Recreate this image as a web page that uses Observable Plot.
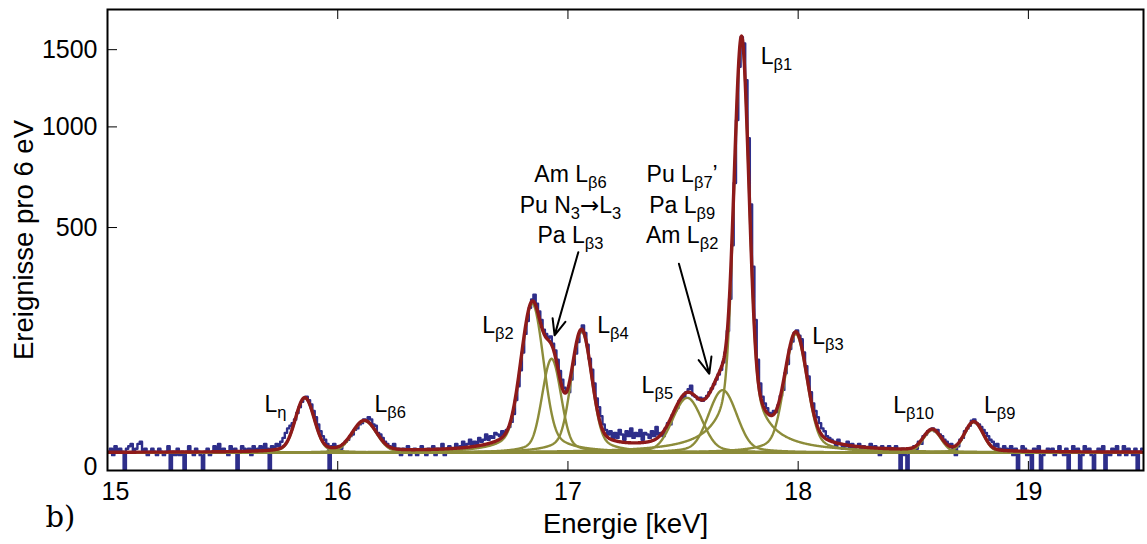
<!DOCTYPE html>
<html>
<head>
<meta charset="utf-8">
<script src="https://cdn.jsdelivr.net/npm/d3@7"></script>
<script src="https://cdn.jsdelivr.net/npm/@observablehq/plot@0.6"></script>
<style>
  html, body { margin: 0; padding: 0; background: #fff; }
  #chart { width: 1147px; height: 544px; }
</style>
</head>
<body>
<div id="chart"></div>
<script>
// ---------- data ----------
// measured spectrum, counts per 6 eV, sampled in 10 eV steps starting at 15.00 keV
const binStart = 15.005;   // keV, centre of first bin
const binWidth = 0.01;     // keV
const counts = [
  3,4,2,5,3,4,3,0,4,5,     6,3,4,6,7,3,4,2,3,4,     3,2,4,3,2,3,5,0,3,2,
  4,2,3,0,3,5,3,2,4,3,     2,0,3,4,2,3,5,3,6,3,     4,3,2,5,3,4,0,3,5,4,
  3,4,2,5,3,4,5,3,6,4,     0,5,4,6,5,7,9,12,15,17,  19,22,28,34,40,44,46,42,37,30,
  24,18,13,10,8,6,0,5,6,4,
  5,4,6,7,8,10,11,14,15,18,   19,22,21,24,22,18,17,12,11,9,   7,6,5,4,6,3,4,2,4,3,
  5,2,3,4,2,3,5,3,2,4,        3,5,2,4,3,6,2,4,5,3,            4,6,3,5,7,4,6,8,5,7,
  6,9,7,8,11,8,10,9,12,11,    10,13,11,14,16,20,27,42,60,85,  118,158,189,224,248,262,236,214,192,168,
  158,149,152,136,122,104,84,70,58,55,
  52,70,95,116,140,162,178,160,134,106,   86,64,44,34,25,18,14,11,13,9,   12,9,14,11,8,13,10,15,9,12,
  10,14,8,12,11,9,13,10,16,11,            12,10,15,19,18,26,30,33,41,44,  46,52,56,61,48,46,43,45,41,44,
  47,52,57,63,70,78,86,99,118,165,        250,430,700,1040,1380,1590,1545,1290,935,600,
  352,192,104,64,46,38,33,28,27,30,       29,36,47,55,80,96,125,141,160,166,
  154,146,118,92,75,52,38,30,24,19,   15,13,10,9,8,7,5,8,6,4,   5,7,4,6,3,5,6,4,5,3,
  4,6,3,5,4,2,5,4,3,5,               4,3,5,3,0,4,2,0,3,4,      5,4,7,6,10,11,13,14,15,13,
  14,11,10,8,7,5,6,4,2,5,            8,9,13,15,17,21,22,19,18,16,  14,12,10,8,7,5,6,4,3,5,
  4,3,5,2,4,0,3,5,4,2,
  3,0,4,3,5,0,2,3,4,3,   4,2,3,5,3,2,4,0,3,5,   3,4,0,2,5,3,4,2,0,3,
  4,3,5,0,3,2,4,3,5,2,   3,5,2,4,3,2,4,0,3,4
];

// fitted line components (pseudo-Voigt): centre [keV], height [counts], FWHM [keV]
const peakNames   = ["Lη","Lβ6","Lβ2","Am Lβ6 / Pu N3→L3 / Pa Lβ3","Lβ4","Lβ5","Pu Lβ7' / Pa Lβ9 / Am Lβ2","Lβ1","Lβ3","Lβ10","Lβ9"];
const peakCenters = [15.857, 16.116, 16.845, 16.929, 17.059, 17.518, 17.672, 17.754, 17.990, 18.582, 18.763];
const peakHeights = [42, 18, 233, 103, 162, 42, 52, 1580, 155, 11, 17];
const peakWidths  = [0.078, 0.105, 0.088, 0.075, 0.08, 0.12, 0.115, 0.058, 0.088, 0.08, 0.08];
const lorentzFraction = 0.2;
const background = 2.7;

// tick values
const xTicks = [15, 16, 17, 18, 19];
const yTicks = [0, 500, 1000, 1500];

// annotations
const labelTexts  = ["L_{η}", "L_{β6}", "L_{β2}", "L_{β4}", "L_{β5}", "L_{β1}", "L_{β3}", "L_{β10}", "L_{β9}"];
const labelEnergy = [15.682, 16.160, 16.628, 17.127, 17.320, 17.837, 18.061, 18.413, 18.807];
const labelCounts = [36.9, 36.9, 177.7, 176.9, 61.1, 1452, 152.7, 35.1, 35.1];

const noteTexts  = ["Am L_{β6}", "Pu N_{3}→L_{3}", "Pa L_{β3}", "Pu L_{β7}’", "Pa L_{β9}", "Am L_{β2}"];
const noteEnergy = [17.011, 17.011, 17.011, 17.496, 17.496, 17.496];
const noteCounts = [742, 592, 468, 742, 592, 468];

const arrowFromE = [17.045, 17.482];
const arrowFromC = [403.6, 361.9];
const arrowToE   = [16.942, 17.614];
const arrowToC   = [154.7, 79.2];

// ---------- build tables ----------
const hist = counts.map((c, i) => ({E: binStart + i * binWidth, c}));

function profile(E, k) {
  const r = (E - peakCenters[k]) / peakWidths[k];
  return peakHeights[k] * ((1 - lorentzFraction) * Math.exp(-4 * Math.LN2 * r * r) + lorentzFraction / (1 + 4 * r * r));
}
const grid = d3.range(15, 19.5001, 0.002);
const comps = [];
peakCenters.forEach((_, k) => grid.forEach(E => comps.push({k, E, y: background + profile(E, k)})));
const total = grid.map(E => ({E, y: background + d3.sum(peakCenters, (_, k) => profile(E, k))}));

const labels = labelTexts.map((t, i) => ({t, E: labelEnergy[i], c: labelCounts[i]}));
const notes = noteTexts.map((t, i) => ({t, E: noteEnergy[i], c: noteCounts[i]}));
const arrows = arrowFromE.map((_, i) => ({x1: arrowFromE[i], y1: arrowFromC[i], x2: arrowToE[i], y2: arrowToC[i]}));

const FONT = "'Liberation Sans', Arial, Helvetica, sans-serif";

const svg = Plot.plot({
  width: 1147,
  height: 544,
  marginLeft: 107,
  marginRight: 4,
  marginTop: 9,
  marginBottom: 74,
  x: {domain: [15, 19.5]},
  y: {type: "sqrt", domain: [0, 1800]},
  style: {fontFamily: FONT, fontSize: "25px", background: "white", color: "black"},
  marks: [
    Plot.lineY(hist, {x: "E", y: "c", curve: "step", stroke: "#2e2e8a", strokeWidth: 2.4, clip: true}),
    Plot.line(comps, {x: "E", y: "y", z: "k", stroke: "#8c8c3a", strokeWidth: 2.4, clip: true}),
    Plot.line(total, {x: "E", y: "y", stroke: "#8e1a1a", strokeWidth: 3.4, clip: true}),
    Plot.text(labels, {x: "E", y: "c", text: "t", textAnchor: "start", lineAnchor: "middle", fontSize: 23, fill: "black"}),
    Plot.text(notes, {x: "E", y: "c", text: "t", textAnchor: "middle", lineAnchor: "middle", fontSize: 23, fill: "black"}),
    Plot.arrow(arrows, {x1: "x1", y1: "y1", x2: "x2", y2: "y2", stroke: "black", strokeWidth: 2, headLength: 13, headAngle: 45}),
    Plot.frame({stroke: "black", strokeWidth: 2}),
    // inward ticks
    Plot.axisX({anchor: "bottom", ticks: xTicks, tickSize: 9, dy: -9, tickFormat: () => "", label: null}),
    Plot.axisX({anchor: "top", ticks: xTicks, tickSize: 9, dy: 9, tickFormat: () => "", label: null}),
    Plot.axisY({anchor: "left", ticks: yTicks, tickSize: 10, dx: 10, tickFormat: () => "", label: null}),
    // tick labels
    Plot.axisX({anchor: "bottom", ticks: xTicks.slice(1), tickSize: 0, tickPadding: 12, fontSize: 25, tickFormat: d => String(d), label: null}),
    Plot.axisX({anchor: "bottom", ticks: xTicks.slice(0, 1), tickSize: 0, tickPadding: 12, dx: 8, fontSize: 25, tickFormat: d => String(d), label: null}),
    Plot.axisY({anchor: "left", ticks: yTicks.slice(1), tickSize: 0, tickPadding: 10, fontSize: 25, tickFormat: d => String(d), label: null}),
    Plot.axisY({anchor: "left", ticks: yTicks.slice(0, 1), tickSize: 0, tickPadding: 10, dy: -4, fontSize: 25, tickFormat: d => String(d), label: null}),
    // axis titles
    Plot.text(["Energie [keV]"], {frameAnchor: "bottom", dy: 54, textAnchor: "middle", lineAnchor: "middle", fontSize: 27.5, fill: "black"}),
    Plot.text(["Ereignisse pro 6 eV"], {frameAnchor: "left", dx: -83, rotate: -90, textAnchor: "middle", lineAnchor: "middle", fontSize: 27.5, fill: "black"}),
    Plot.text(["b)"], {frameAnchor: "bottom-left", dx: -62, dy: 47, textAnchor: "start", lineAnchor: "middle", fontSize: 29, fontFamily: "'DejaVu Serif', serif", fill: "black"})
  ]
});

// turn "_{...}" markup into real subscript tspans; draw "→" with a font that has a proper arrow
const NS = "http://www.w3.org/2000/svg";
const SUB_SIZE = 16.5, SUB_SHIFT = 6;
svg.querySelectorAll("text").forEach(el => {
  const s = el.textContent;
  if (!s.includes("_{") && !s.includes("→")) return;
  while (el.firstChild) el.removeChild(el.firstChild);
  let shifted = false;
  const add = (txt, sub) => {
    const parts = sub ? [txt] : txt.split(/(→)/).filter(p => p.length);
    parts.forEach(p => {
      const ts = document.createElementNS(NS, "tspan");
      ts.textContent = p;
      if (sub) { ts.setAttribute("dy", SUB_SHIFT); ts.setAttribute("font-size", SUB_SIZE); shifted = true; }
      else if (shifted) { ts.setAttribute("dy", -SUB_SHIFT); shifted = false; }
      if (p === "→") ts.setAttribute("font-family", "'DejaVu Sans', sans-serif");
      el.appendChild(ts);
    });
  };
  const re = /_\{([^}]*)\}/g;
  let last = 0, m;
  while ((m = re.exec(s))) {
    if (m.index > last) add(s.slice(last, m.index), false);
    add(m[1], true);
    last = re.lastIndex;
  }
  if (last < s.length) add(s.slice(last), false);
});

document.getElementById("chart").appendChild(svg);
</script>
</body>
</html>
